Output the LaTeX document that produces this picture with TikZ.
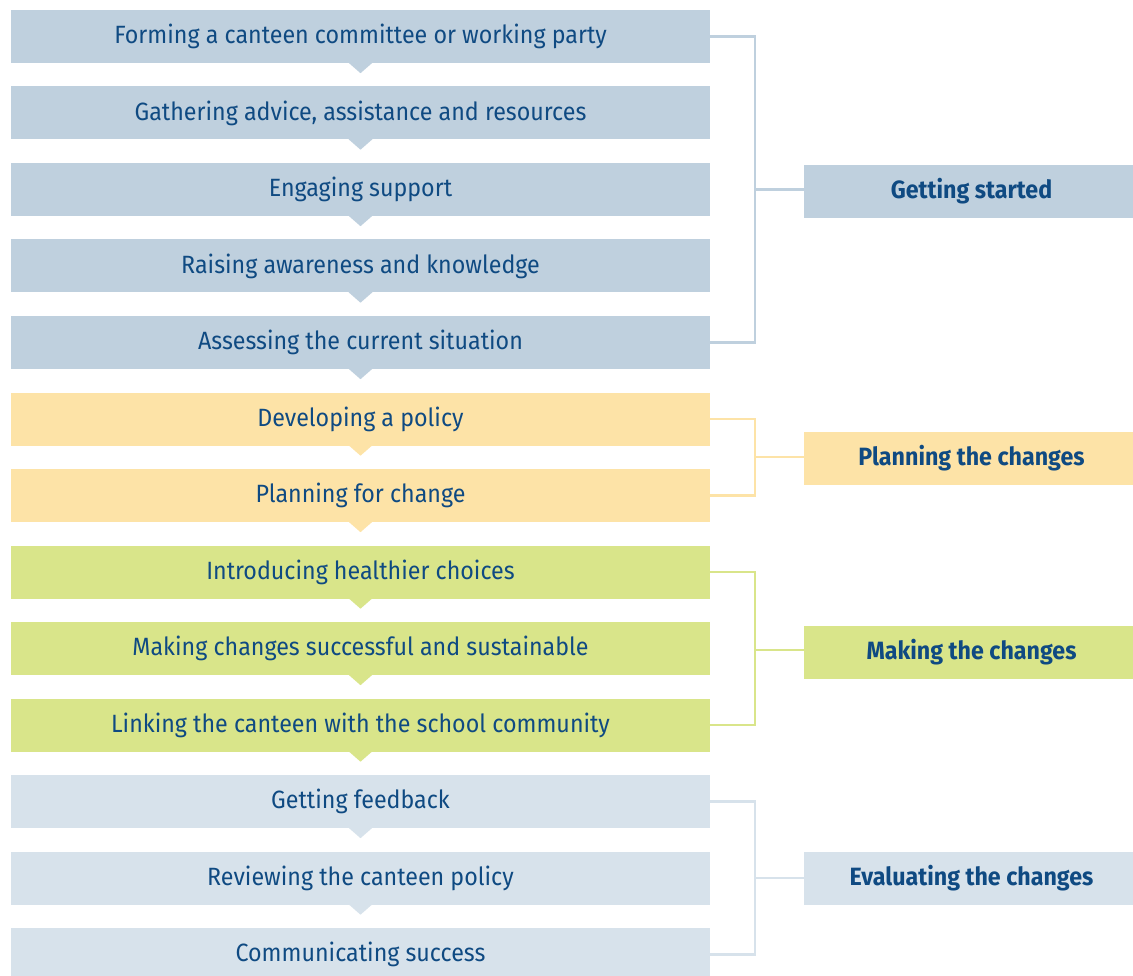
\documentclass[tikz,border=0pt]{standalone}
\usepackage{fontspec}
\setmainfont[FakeStretch=0.93]{Fira Sans}
\usetikzlibrary{calc,positioning}
\definecolor{startblue}{HTML}{BFD0DE}
\definecolor{planyellow}{HTML}{FDE3A7}
\definecolor{makegreen}{HTML}{D9E58A}
\definecolor{evalblue}{HTML}{D7E2EB}
\definecolor{inkblue}{HTML}{0F4A82}
\tikzset{stepbox/.style={%
        fill=#1,
        minimum width=699pt,minimum height=53pt,inner sep=0pt,
        anchor=center,
        text=inkblue,
        font=\fontsize{25}{29}\selectfont}}
\tikzset{phasebox/.style={%
        fill=#1,
        minimum width=329pt,minimum height=53pt,inner sep=0pt,
        text=inkblue,
        font=\fontsize{25}{29}\selectfont\bfseries}}
\tikzset{bracket/.style={draw=#1,line width=2.4pt}}

\begin{document}
\begin{tikzpicture}[x=1pt,y=1pt]
  \useasboundingbox (0,0) rectangle (1133,-976);
  \node [stepbox=startblue] (s1) at (360.5,-36.5) {Forming a canteen committee or working party};
  \node [stepbox=startblue] (s2) at (360.5,-113) {Gathering advice, assistance and resources};
  \node [stepbox=startblue] (s3) at (360.5,-189.5) {Engaging support};
  \node [stepbox=startblue] (s4) at (360.5,-266) {Raising awareness and knowledge};
  \node [stepbox=startblue] (s5) at (360.5,-342.5) {Assessing the current situation};
  \node [stepbox=planyellow] (s6) at (360.5,-419) {Developing a policy};
  \node [stepbox=planyellow] (s7) at (360.5,-495.5) {Planning for change};
  \node [stepbox=makegreen] (s8) at (360.5,-572) {Introducing healthier choices};
  \node [stepbox=makegreen] (s9) at (360.5,-648.5) {Making changes successful and sustainable};
  \node [stepbox=makegreen] (s10) at (360.5,-725) {Linking the canteen with the school community};
  \node [stepbox=evalblue] (s11) at (360.5,-801.5) {Getting feedback};
  \node [stepbox=evalblue] (s12) at (360.5,-878) {Reviewing the canteen policy};
  \node [stepbox=evalblue] (s13) at (360.5,-954.5) {Communicating success};
  % pointers under the steps
  \fill [startblue] ($(s1.south)+(-12,0.5)$) -- ($(s1.south)+(0,-10)$) -- ($(s1.south)+(12,0.5)$) -- cycle;
  \fill [startblue] ($(s2.south)+(-12,0.5)$) -- ($(s2.south)+(0,-10)$) -- ($(s2.south)+(12,0.5)$) -- cycle;
  \fill [startblue] ($(s3.south)+(-12,0.5)$) -- ($(s3.south)+(0,-10)$) -- ($(s3.south)+(12,0.5)$) -- cycle;
  \fill [startblue] ($(s4.south)+(-12,0.5)$) -- ($(s4.south)+(0,-10)$) -- ($(s4.south)+(12,0.5)$) -- cycle;
  \fill [startblue] ($(s5.south)+(-12,0.5)$) -- ($(s5.south)+(0,-10)$) -- ($(s5.south)+(12,0.5)$) -- cycle;
  \fill [planyellow] ($(s6.south)+(-12,0.5)$) -- ($(s6.south)+(0,-10)$) -- ($(s6.south)+(12,0.5)$) -- cycle;
  \fill [planyellow] ($(s7.south)+(-12,0.5)$) -- ($(s7.south)+(0,-10)$) -- ($(s7.south)+(12,0.5)$) -- cycle;
  \fill [makegreen] ($(s8.south)+(-12,0.5)$) -- ($(s8.south)+(0,-10)$) -- ($(s8.south)+(12,0.5)$) -- cycle;
  \fill [makegreen] ($(s9.south)+(-12,0.5)$) -- ($(s9.south)+(0,-10)$) -- ($(s9.south)+(12,0.5)$) -- cycle;
  \fill [makegreen] ($(s10.south)+(-12,0.5)$) -- ($(s10.south)+(0,-10)$) -- ($(s10.south)+(12,0.5)$) -- cycle;
  \fill [evalblue] ($(s11.south)+(-12,0.5)$) -- ($(s11.south)+(0,-10)$) -- ($(s11.south)+(12,0.5)$) -- cycle;
  \fill [evalblue] ($(s12.south)+(-12,0.5)$) -- ($(s12.south)+(0,-10)$) -- ($(s12.south)+(12,0.5)$) -- cycle;
  % phases
  \node [phasebox=startblue] (g1) at (968.5,-191.5) {\hspace{6pt}Getting started};
  \node [phasebox=planyellow] (g2) at (968.5,-458.5) {\hspace{6pt}Planning the changes};
  \node [phasebox=makegreen] (g3) at (968.5,-652.5) {\hspace{6pt}Making the changes};
  \node [phasebox=evalblue] (g4) at (968.5,-878.5) {\hspace{6pt}Evaluating the changes};
  \coordinate (b1) at (755,-189.5);
  \coordinate (b2) at (755,-457.25);
  \coordinate (b3) at (755,-650);
  \coordinate (b4) at (755,-878);
  \draw [bracket=startblue] (s1.east) -| (b1) |- (s5.east);
  \draw [bracket=startblue] (b1) -- (b1 -| g1.west);
  \draw [bracket=planyellow] (s6.east) -| (b2) |- (s7.east);
  \draw [bracket=planyellow] (b2) -- (b2 -| g2.west);
  \draw [bracket=makegreen] (s8.east) -| (b3) |- (s10.east);
  \draw [bracket=makegreen] (b3) -- (b3 -| g3.west);
  \draw [bracket=evalblue] (s11.east) -| (b4) |- (s13.east);
  \draw [bracket=evalblue] (b4) -- (b4 -| g4.west);
\end{tikzpicture}
\end{document}
